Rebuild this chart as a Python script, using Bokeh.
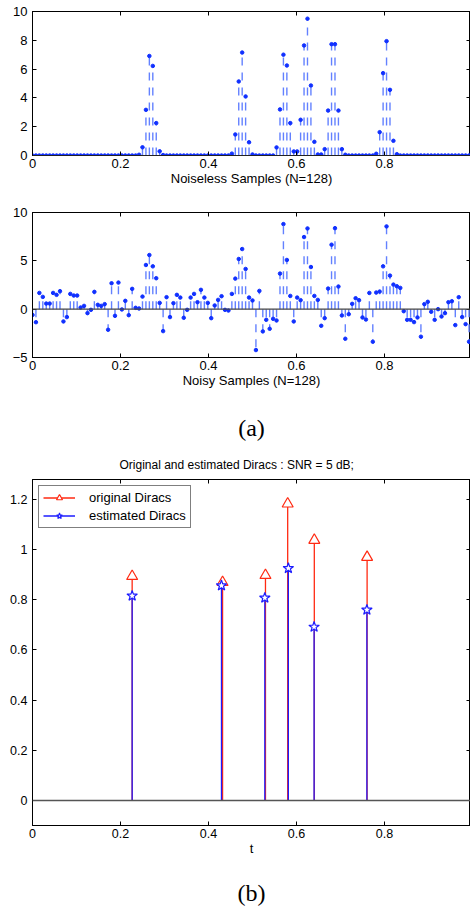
import numpy as np
from bokeh.plotting import figure
from bokeh.layouts import column
from bokeh.models import (ColumnDataSource, FixedTicker, LinearAxis, Span,
                          Legend, LegendItem, CustomJSTickFormatter, Range1d)
from bokeh.embed import file_html
from bokeh.resources import INLINE

# ---------------- data ----------------
N = 128
t_samples = np.arange(N) / N

noiseless = [
    0, 0, 0, 0, 0, 0, 0, 0, 0, 0, 0, 0, 0, 0, 0, 0,
    0, 0, 0, 0, 0, 0, 0, 0, 0, 0, 0, 0, 0, 0, 0, 0.05,
    0.57, 3.17, 6.91, 6.22, 2.25, 0.29, 0.03, 0, 0, 0, 0, 0, 0, 0, 0, 0,
    0, 0, 0, 0, 0, 0, 0, 0, 0, 0, 0.13, 1.46, 5.14, 7.15, 4.10, 0.92,
    0.07, 0, 0, 0, 0, 0, 0, 0.56, 3.20, 7.00, 6.25, 2.25, 0.28, 0.28, 2.48, 7.64,
    9.50, 4.86, 0.95, 0.07, 0.07, 0.44, 3.12, 7.73, 7.73, 3.12, 0.44, 0.05, 0, 0, 0, 0,
    0, 0, 0, 0, 0.12, 1.62, 5.72, 7.94, 4.56, 1.02, 0.09, 0, 0, 0, 0, 0,
    0, 0, 0, 0, 0, 0, 0, 0, 0, 0, 0, 0, 0, 0, 0, 0,
]

noisy = [
    -0.60, -1.35, 1.68, 1.27, 0.58, 0.58, 1.68, 1.48, 1.86, -1.27,
    -0.82, 1.58, 1.41, 1.41, 0.17, 0.34, -0.41, -0.07, 1.79, 0.45,
    0.34, 0.52, -2.13, 2.68, -0.69, 2.75, -0.03, 0.86, -0.62, 2.10,
    0.14, 0.07, 1.30, 4.57, 5.60, 4.43, 3.20, 0.65, -2.27, 1.24,
    -0.82, 0.62, 1.48, 1.20, -0.89, -0.07, 1.20, 1.58, 0.72, 2.00,
    1.20, 0.65, -0.93, 0.38, 0.96, 1.34, -0.07, -0.14, 1.58, 3.16,
    5.19, 6.22, 4.16, 1.20, 0.90, -4.23, 1.89, -2.30, -1.10, -2.03,
    -1.00, -1.17, 3.68, 8.80, 5.09, 1.37, -1.27, 1.20, 0.93, 7.46,
    8.35, 4.36, 1.37, 0.96, -1.72, -0.93, 2.13, 6.67, 8.38, 2.34,
    -0.65, -3.06, -0.52, 0.55, 1.13, 0.93, -0.86, -1.07, 1.68, -3.37,
    1.72, 1.82, 4.43, 8.56, 3.47, 2.54, 2.37, 2.20, -0.21, -1.10,
    -1.10, -1.34, -0.86, -2.85, 0.52, 0.76, -0.27, -1.10, 0.00, -0.76,
    -0.41, 0.72, 0.82, -1.65, 1.24, -0.82, -1.55, -3.37,
]

t_orig = [0.2265, 0.432, 0.5295, 0.580, 0.6405, 0.7605]
a_orig = [0.894, 0.870, 0.898, 1.183, 1.038, 0.970]
t_est = [0.2265, 0.4295, 0.528, 0.5815, 0.640, 0.760]
a_est = [0.816, 0.857, 0.808, 0.926, 0.692, 0.760]

x_ticks = [0, 0.2, 0.4, 0.6, 0.8]
y_ticks_1 = [0, 2, 4, 6, 8, 10]
y_ticks_2 = [-5, 0, 5, 10]
y_ticks_3 = [0, 0.2, 0.4, 0.6, 0.8, 1.0, 1.2]

# ---------------- styles ----------------
FONT = "Liberation Sans"
SERIF = "Liberation Serif"
STEM = "#6381ff"
DOT = "#1030ff"
RED = "#ff2a12"
BLUE = "#1c1cff"
X_END = 0.9955

fmt_code = "return tick < 0 ? '\\u2212' + String(-tick) : String(tick);"


def setup(p, xticks, yticks, tick_font="13px"):
    p.grid.visible = False
    p.outline_line_color = "black"
    p.outline_line_width = 1
    p.background_fill_color = "white"
    p.border_fill_color = "white"
    for ax in list(p.xaxis) + list(p.yaxis):
        ax.formatter = CustomJSTickFormatter(code=fmt_code)
        ax.major_tick_in = 4
        ax.major_tick_out = 0
        ax.minor_tick_line_color = None
        ax.axis_line_color = "black"
        ax.major_tick_line_color = "black"
        ax.major_label_text_font = FONT
        ax.major_label_text_font_size = tick_font
        ax.major_label_text_color = "black"
        ax.axis_label_text_font = FONT
        ax.axis_label_text_font_size = "13px"
        ax.axis_label_text_font_style = "normal"
        ax.axis_label_text_color = "black"
    p.xaxis.ticker = FixedTicker(ticks=xticks)
    p.yaxis.ticker = FixedTicker(ticks=yticks)
    p.xaxis.major_label_standoff = 3
    p.xaxis.axis_label_standoff = 0
    p.yaxis.major_label_standoff = 5
    for loc, ticks in (("above", xticks), ("right", yticks)):
        ax = LinearAxis(ticker=FixedTicker(ticks=ticks),
                        formatter=CustomJSTickFormatter(code="return '';"),
                        major_label_text_font_size="0px", major_label_standoff=0,
                        major_tick_in=4, major_tick_out=0,
                        minor_tick_line_color=None, axis_line_color="black",
                        major_tick_line_color="black")
        p.add_layout(ax, loc)


def caption(text, height):
    c = figure(width=470, height=height, x_range=Range1d(0, 1), y_range=Range1d(0, 1),
               output_backend="svg", toolbar_location=None,
               x_axis_location=None, y_axis_location=None,
               min_border_left=22, min_border_right=0, min_border_top=0, min_border_bottom=0,
               title=text)
    c.grid.visible = False
    c.outline_line_color = None
    c.title.align = "center"
    c.title.text_font = SERIF
    c.title.text_font_size = "24px"
    c.title.text_font_style = "normal"
    c.title.text_color = "black"
    c.title.standoff = 0
    return c


# ---------------- panel 1: noiseless ----------------
src1 = ColumnDataSource(dict(t=t_samples, v=noiseless))
p1 = figure(width=470, height=197, x_range=Range1d(0, X_END), y_range=Range1d(0, 10),
            output_backend="svg", toolbar_location=None,
            min_border_left=32, min_border_right=0, min_border_top=11, min_border_bottom=42)
p1.xaxis.axis_label = "Noiseless Samples (N=128)"
setup(p1, x_ticks, y_ticks_1)
p1.add_layout(Span(location=0, dimension="width", line_color="#444444", line_width=1.2))
p1.segment(x0="t", y0=0, x1="t", y1="v", source=src1, line_color=STEM,
           line_width=1.4, line_dash="8 7")
p1.scatter("t", "v", source=src1, size=3.5, color=DOT)

# ---------------- panel 2: noisy ----------------
src2 = ColumnDataSource(dict(t=t_samples, v=noisy))
p2 = figure(width=470, height=215, x_range=Range1d(0, X_END), y_range=Range1d(-5, 10),
            output_backend="svg", toolbar_location=None,
            min_border_left=32, min_border_right=0, min_border_top=15, min_border_bottom=55)
p2.xaxis.axis_label = "Noisy Samples (N=128)"
setup(p2, x_ticks, y_ticks_2)
p2.add_layout(Span(location=0, dimension="width", line_color="#444444", line_width=1.2))
p2.segment(x0="t", y0=0, x1="t", y1="v", source=src2, line_color=STEM,
           line_width=1.4, line_dash="8 7")
p2.scatter("t", "v", source=src2, size=3.5, color=DOT)

cap_a = caption("(a)", 33)

# ---------------- panel 3: Diracs ----------------
src_o = ColumnDataSource(dict(t=t_orig, a=a_orig))
src_e = ColumnDataSource(dict(t=t_est, a=a_est))
p3 = figure(width=470, height=432, x_range=Range1d(0, X_END), y_range=Range1d(-0.1, 1.28),
            output_backend="svg", toolbar_location=None,
            min_border_left=32, min_border_right=0, min_border_top=34, min_border_bottom=52)
p3.title.text = "Original and estimated Diracs : SNR = 5 dB;"
p3.title.align = "left"
p3.title.offset = 87
p3.title.text_font = FONT
p3.title.text_font_size = "12px"
p3.title.text_font_style = "normal"
p3.title.text_color = "black"
p3.title.standoff = 16
p3.xaxis.axis_label = "t"
setup(p3, x_ticks, y_ticks_3, tick_font="12.5px")
p3.add_layout(Span(location=0, dimension="width", line_color="#555555", line_width=1.5))
r_os = p3.segment(x0="t", y0=0, x1="t", y1="a", source=src_o, line_color=RED, line_width=1.3)
r_om = p3.scatter("t", "a", source=src_o, marker="triangle", size=11, line_color=RED,
                  fill_color="white", line_width=1.2)
r_es = p3.segment(x0="t", y0=0, x1="t", y1="a", source=src_e, line_color=BLUE, line_width=1.3)
r_em = p3.scatter("t", "a", source=src_e, marker="star", size=11, line_color=BLUE,
                  fill_color="white", line_width=1.2)
legend = Legend(items=[LegendItem(label="original Diracs", renderers=[r_os, r_om]),
                       LegendItem(label="estimated Diracs", renderers=[r_es, r_em])],
                location="top_left", margin=6, padding=4, spacing=3,
                glyph_width=32, glyph_height=15, label_height=15, label_standoff=14,
                label_text_font=FONT, label_text_font_size="13px", label_text_color="black",
                border_line_color="black", border_line_width=1,
                background_fill_color="white", background_fill_alpha=1)
p3.add_layout(legend)

cap_b = caption("(b)", 33)

layout = column(p1, p2, cap_a, p3, cap_b, spacing=0)
open("out.html", "w").write(file_html(layout, INLINE))
